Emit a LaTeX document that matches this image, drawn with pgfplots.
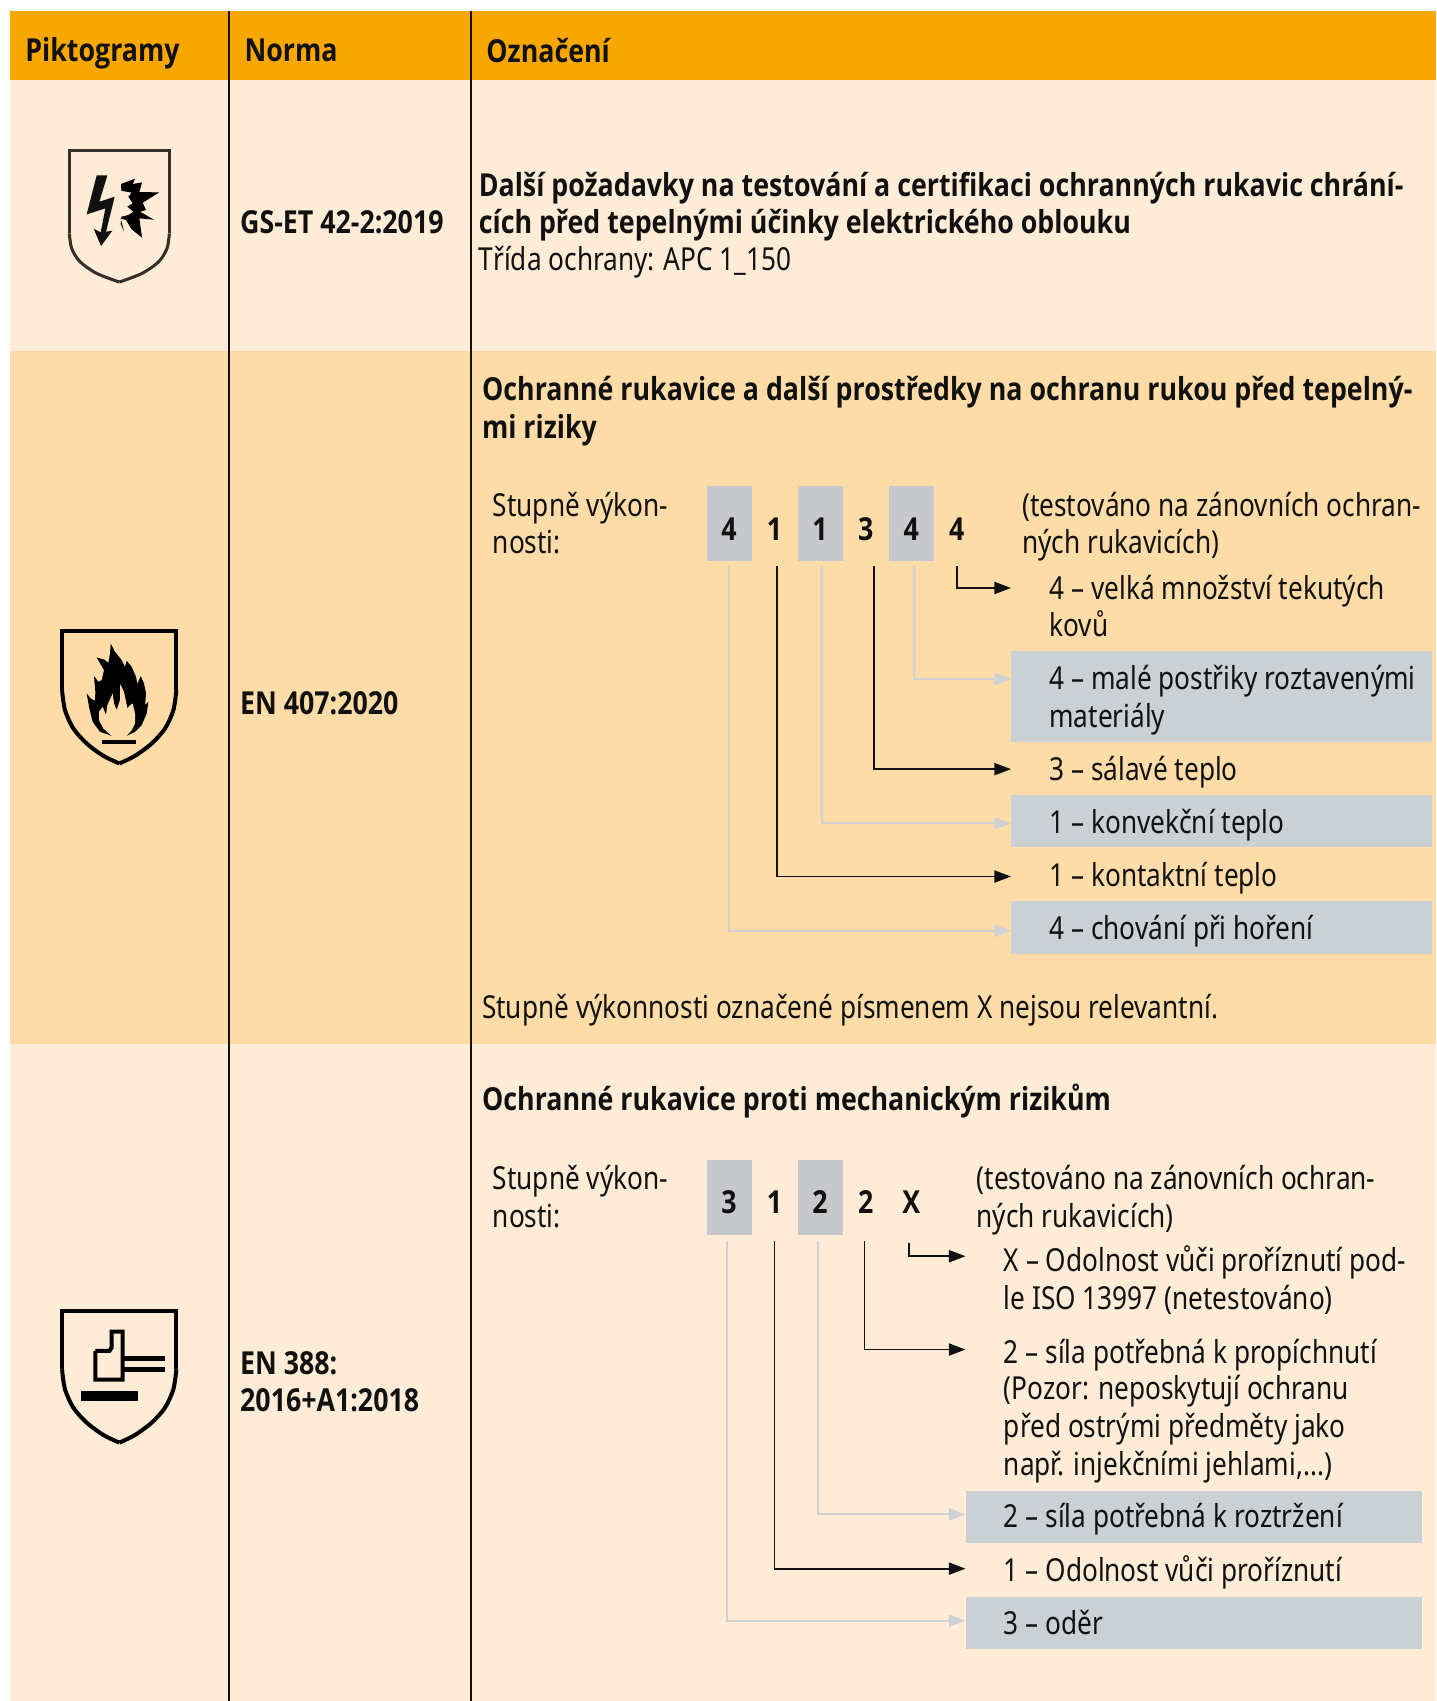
\documentclass[border=0pt]{standalone}
\usepackage{fontspec}
\usepackage{pgfplots}
\pgfplotsset{compat=1.18}
\usetikzlibrary{arrows.meta}
\setmainfont[FakeStretch=0.827]{Noto Sans}
\newfontfamily\bff[FakeStretch=0.845,BoldFont={Open Sans Bold}]{Open Sans}
\definecolor{hdr}{HTML}{F8A700}
\definecolor{rowa}{HTML}{FFECD7}
\definecolor{rowb}{HTML}{FEDCA8}
\definecolor{gbox}{HTML}{C6C8CC}
\definecolor{gbar}{HTML}{CBD0D4}
\definecolor{gline}{HTML}{CDD1D5}
\definecolor{ink}{HTML}{111111}
\newcommand{\T}[3]{\node[anchor=base west,inner sep=0pt,text=ink,font=\fontsize{14.6}{17}\selectfont] at (axis cs:#1,#2) {#3};}
\newcommand{\B}[3]{\node[anchor=base west,inner sep=0pt,text=ink,font=\fontsize{14.6}{17}\selectfont\bff\bfseries] at (axis cs:#1,#2) {#3};}
\newcommand{\D}[3]{\node[anchor=base,inner sep=0pt,text=ink,font=\fontsize{14.6}{17}\selectfont\bff\bfseries] at (axis cs:#1,#2) {#3};}
\pgfplotsset{
  zm/.style 2 args={x filter/.expression={(#1+x/3)/1.0846},y filter/.expression={(#2+y/3)/1.0846}},
  box/.style={fill=#1,draw=none,forget plot},
  blk/.style={draw=ink,line width=0.8pt,-{Triangle[length=7.7pt,width=5.6pt]},forget plot},
  gry/.style={draw=gline,line width=0.9pt,-{Triangle[length=7.7pt,width=5.6pt,fill=gline]},forget plot},
}
\begin{document}
\begin{tikzpicture}
\begin{axis}[
  scale only axis,width=662pt,height=784pt,
  xmin=0,xmax=1324,ymin=0,ymax=1568,y dir=reverse,hide axis,
]
% page
\addplot[box=white] coordinates {(0,0)(1324,0)(1324,1568)(0,1568)};
% table bands
\addplot[box=hdr] coordinates {(9,10.5)(1324,10.5)(1324,73.3)(9,73.3)};
\addplot[box=rowa] coordinates {(9,73.3)(1324,73.3)(1324,324)(9,324)};
\addplot[box=rowb] coordinates {(9,324)(1324,324)(1324,962)(9,962)};
\addplot[box=rowa] coordinates {(9,962)(1324,962)(1324,1568)(9,1568)};
% column rules
\addplot[draw=ink,line width=1.05pt,forget plot] coordinates {(211,10.5)(211,1568)};
\addplot[draw=ink,line width=1.05pt,forget plot] coordinates {(434,10.5)(434,1568)};
% digit boxes, row 2
\addplot[box=gbox] coordinates {(652,448)(693.5,448)(693.5,517)(652,517)};
\addplot[box=gbox] coordinates {(736,448)(777.5,448)(777.5,517)(736,517)};
\addplot[box=gbox] coordinates {(819.5,448)(861,448)(861,517)(819.5,517)};
% text bars, row 2
\addplot[box=gbar] coordinates {(932,600)(1320,600)(1320,684)(932,684)};
\addplot[box=gbar] coordinates {(932,733)(1320,733)(1320,781)(932,781)};
\addplot[box=gbar] coordinates {(932,831)(1320,831)(1320,879)(932,879)};
% connectors, row 2
\addplot[gry] coordinates {(672,522)(672,858)(932,858)};
\addplot[blk] coordinates {(716,522)(716,808)(932,808)};
\addplot[gry] coordinates {(757.5,522)(757.5,759)(932,759)};
\addplot[blk] coordinates {(805.5,522)(805.5,709)(932,709)};
\addplot[gry] coordinates {(842.5,522)(842.5,626)(932,626)};
\addplot[blk] coordinates {(882.5,522)(882.5,542)(932,542)};
% digit boxes, row 3
\addplot[box=gbox] coordinates {(652,1069)(693.5,1069)(693.5,1138)(652,1138)};
\addplot[box=gbox] coordinates {(736,1069)(777.5,1069)(777.5,1138)(736,1138)};
% text bars, row 3
\addplot[box=gbar] coordinates {(890,1374)(1311,1374)(1311,1422)(890,1422)};
\addplot[box=gbar] coordinates {(890,1472)(1311,1472)(1311,1520)(890,1520)};
% connectors, row 3
\addplot[gry] coordinates {(670,1144)(670,1494)(890,1494)};
\addplot[blk] coordinates {(714,1144)(714,1446)(890,1446)};
\addplot[gry] coordinates {(754,1144)(754,1396)(890,1396)};
\addplot[blk] coordinates {(797,1144)(797,1244)(890,1244)};
\addplot[blk] coordinates {(838,1146)(838,1158)(890,1158)};
% shield 1
\addplot[zm={0}{0},draw=black!80!rowa,line width=1.4pt,forget plot,line join=miter] coordinates {(208,700)(208,451)(508,451)(508,700)};
\addplot[zm={0}{0},draw=black!80!rowa,line width=1.4pt,forget plot,smooth] coordinates {(208,700)(215,745)(240,785)(290,820)(358,846)};
\addplot[zm={0}{0},draw=black!80!rowa,line width=1.4pt,forget plot,smooth] coordinates {(508,700)(501,745)(476,785)(426,820)(358,846)};
\addplot[zm={0}{0},fill=ink,draw=none,forget plot] coordinates {(290,526)(322,526)(298,605)(344,590)(318,695)(337,692)(303,738)(281,686)(302,697)(316,625)(260,643)};
\addplot[zm={0}{0},fill=black,draw=none,forget plot] coordinates {(363,552)(405,536)(398,552)(426,547)(418,576)(478,577)(428,608)(438,630)(420,635)(462,659)(418,655)(426,713)(395,688)(378,660)(362,655)(372,695)(362,672)(364,650)(385,645)(400,635)(382,620)(398,610)(385,590)(395,578)(364,572)};
% shield 2
\addplot[zm={30}{610},draw=black,line width=1.85pt,forget plot,line join=miter] coordinates {(96,240)(96,64)(439,64)(439,240)};
\addplot[zm={30}{610},draw=black,line width=1.85pt,forget plot,smooth] coordinates {(96,240)(105,300)(130,355)(170,400)(220,437)(268,460)};
\addplot[zm={30}{610},draw=black,line width=1.85pt,forget plot,smooth] coordinates {(439,240)(430,300)(405,355)(365,400)(315,437)(268,460)};
\addplot[zm={30}{610},fill=black,draw=none,forget plot] coordinates {(245,377)(210,365)(188,335)(178,295)(170,250)(182,265)(195,272)(196,245)(192,198)(205,215)(215,210)(222,180)(200,142)(222,148)(235,158)(240,130)(242,100)(255,125)(275,150)(285,170)(290,152)(305,170)(318,200)(322,222)(332,198)(342,220)(348,250)(345,285)(355,275)(350,310)(335,345)(315,365)(290,377)};
\addplot[zm={30}{610},fill=rowb,draw=none,forget plot] coordinates {(245,377)(220,355)(207,330)(207,305)(218,290)(228,315)(232,285)(248,250)(252,280)(260,300)(270,270)(270,222)(282,245)(288,275)(292,295)(300,285)(308,280)(315,310)(315,340)(305,360)(290,377)};
\addplot[zm={30}{610},fill=black,draw=none,forget plot] coordinates {(217,390)(319,390)(319,403)(217,403)};
% shield 3
\addplot[zm={30}{1290},draw=black,line width=1.85pt,forget plot,line join=miter] coordinates {(96,237)(96,61)(439,61)(439,237)};
\addplot[zm={30}{1290},draw=black,line width=1.85pt,forget plot,smooth] coordinates {(96,237)(105,297)(130,352)(170,397)(220,434)(268,457)};
\addplot[zm={30}{1290},draw=black,line width=1.85pt,forget plot,smooth] coordinates {(439,237)(430,297)(405,352)(365,397)(315,434)(268,457)};
\addplot[zm={30}{1290},draw=black,line width=1.85pt,forget plot,line join=miter] coordinates {(196,182)(238,182)(245,172)(245,124)(278,124)(278,268)(196,268)(196,182)};
\addplot[zm={30}{1290},draw=black,line width=2.1pt,forget plot] coordinates {(283,204)(404,204)};
\addplot[zm={30}{1290},draw=black,line width=2.1pt,forget plot] coordinates {(283,238)(404,238)};
\addplot[zm={30}{1290},fill=black,draw=none,forget plot] coordinates {(153,303)(324,303)(324,332)(153,332)};
% texts
\B{23}{56.5}{Piktogramy}
\B{225}{56.5}{Norma}
\B{448}{57.5}{Označení}
\B{221}{215}{GS-ET 42-2:2019}
\B{441}{181}{Další požadavky na testování a certifikaci ochranných rukavic chrání-}
\B{441}{215}{cích před tepelnými účinky elektrického oblouku}
\T{441}{249}{Třída ochrany: APC 1\_150}
\B{444}{369}{Ochranné rukavice a další prostředky na ochranu rukou před tepelný-}
\B{444}{404}{mi riziky}
\T{454}{476}{Stupně výkon-}
\T{454}{510}{nosti:}
\D{672}{498}{4}\D{714}{498}{1}\D{756}{498}{1}\D{798}{498}{3}\D{840}{498}{4}\D{882}{498}{4}
\T{942}{476}{(testováno na zánovních ochran-}
\T{942}{510}{ných rukavicích)}
\T{967}{552.5}{4 – velká množství tekutých}
\T{967}{586.5}{kovů}
\T{967}{635.5}{4 – malé postřiky roztavenými}
\T{967}{670.5}{materiály}
\T{967}{719.5}{3 – sálavé teplo}
\T{967}{768}{1 – konvekční teplo}
\T{967}{817}{1 – kontaktní teplo}
\T{967}{866}{4 – chování při hoření}
\T{444}{938.5}{Stupně výkonnosti označené písmenem X nejsou relevantní.}
\B{221}{659}{EN 407:2020}
\B{444}{1024}{Ochranné rukavice proti mechanickým rizikům}
\T{454}{1096.5}{Stupně výkon-}
\T{454}{1131.5}{nosti:}
\D{672}{1119}{3}\D{714}{1119}{1}\D{756}{1119}{2}\D{798}{1119}{2}\D{840}{1119}{X}
\T{900}{1096.5}{(testováno na zánovních ochran-}
\T{900}{1131.5}{ných rukavicích)}
\T{925}{1172.5}{X – Odolnost vůči proříznutí pod-}
\T{925}{1207.5}{le ISO 13997 (netestováno)}
\T{925}{1256.5}{2 – síla potřebná k propíchnutí}
\T{925}{1290.5}{(Pozor: neposkytují ochranu}
\T{925}{1325.5}{před ostrými předměty jako}
\T{925}{1360}{např. injekčními jehlami,...)}
\T{925}{1408.5}{2 – síla potřebná k roztržení}
\T{925}{1457.5}{1 – Odolnost vůči proříznutí}
\T{925}{1506.5}{3 – oděr}
\B{221}{1267}{EN 388:}
\B{221}{1301}{2016+A1:2018}
\end{axis}
\end{tikzpicture}
\end{document}
